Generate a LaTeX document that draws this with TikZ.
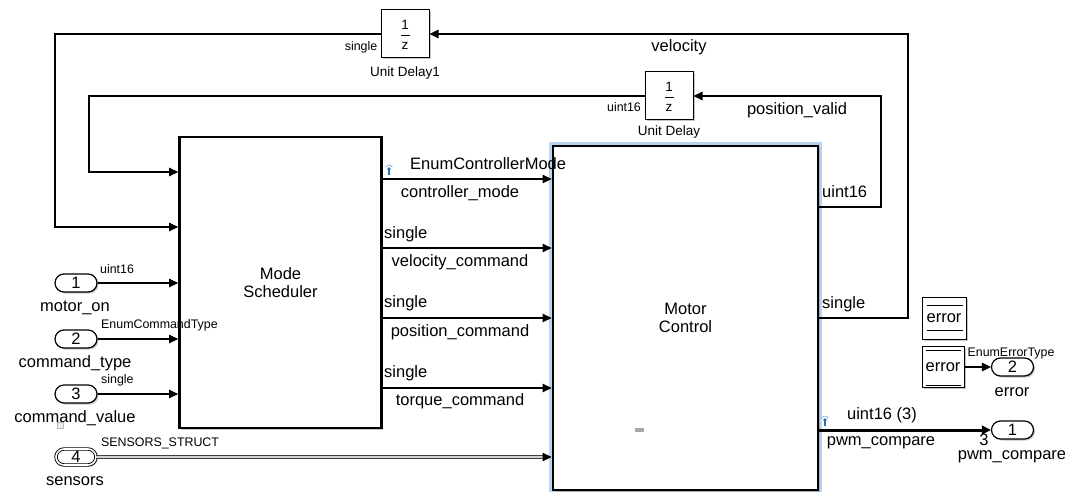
\documentclass[tikz,border=0pt]{standalone}
\usepackage{fontspec}
\setmainfont{Liberation Sans}
\usetikzlibrary{arrows.meta,backgrounds,calc,shadows}
\definecolor{probeblue}{RGB}{40,110,180}
\definecolor{halocol}{RGB}{185,212,240}
\newcommand\LblBig{\fontsize{16.5}{18}\selectfont}
\newcommand\LblSmall{\fontsize{12.4}{14}\selectfont}
\newcommand\LblMid{\fontsize{13.5}{15}\selectfont}
\begin{document}
\begin{tikzpicture}[x=1pt,y=-1pt,
  lbl/.style={inner sep=0pt, font=\LblBig},
  slbl/.style={inner sep=0pt, font=\LblSmall},
  mlbl/.style={inner sep=0pt, font=\LblMid},
  sdw/.style={drop shadow={shadow xshift=1.5pt, shadow yshift=-1.5pt, fill=black!45, opacity=0.5}},
  subsys/.style={draw, fill=white, line width=2.8pt, font=\LblBig, align=center, inner sep=0pt, sdw},
  blockbox/.style={draw, fill=white, line width=1pt, inner sep=0pt, sdw},
  port/.style={draw, fill=white, rounded corners=9pt, minimum width=42pt, minimum height=18pt, line width=1.2pt, font=\LblBig, inner sep=0pt, sdw},
  sig/.style={draw, line width=1.1pt, -{Triangle[length=9pt,width=8.5pt]}},
  probe/.pic={
    \draw[probeblue!55, line width=0.8pt] (-3.29,-1.7) arc[start angle=200, end angle=340, radius=3.5];
    \fill[probeblue] (0,0) circle (1.8);
    \draw[probeblue, line width=1.3pt] (0,0) -- (0,6);
  }
]
\useasboundingbox (0,0) rectangle (1065,492);

% ---------- main blocks ----------
\node[subsys, minimum width=202pt, minimum height=291pt] (ms) at (280.5,282.5) {Mode\\Scheduler};
\node[subsys, minimum width=265pt, minimum height=344pt] (mc) at (685.5,318) {Motor\\Control};
\begin{scope}[on background layer]
  \draw[halocol, line width=3pt] ($(mc.north west)+(-1,-1)$) rectangle ($(mc.south east)+(1,1)$);
\end{scope}
\fill[gray!70] (635,428) rectangle (644,432);

% ---------- unit delays ----------
\node[blockbox, minimum width=48pt, minimum height=48pt] (ud1) at (405,34) {};
\node[mlbl] (ud1a) at (405,24.5) {1};
\draw[line width=0.9pt] (400.5,35) -- (409.5,35);
\node[mlbl] (ud1b) at (405,45.5) {z};
\node[mlbl] (ud1n) at (405,73) {Unit Delay1};
\node[slbl] (ud1t) at (361,47) {single};

\node[blockbox, minimum width=48pt, minimum height=48pt] (ud) at (669,96) {};
\node[mlbl] (uda) at (669,86.5) {1};
\draw[line width=0.9pt] (664.5,97) -- (673.5,97);
\node[mlbl] (udb) at (669,107.5) {z};
\node[mlbl] (udn) at (669,132) {Unit Delay};
\node[slbl] (udt) at (624,107) {uint16};

% ---------- inports ----------
\node[port] (in1) at (76,283) {1};
\node[port] (in2) at (76,339) {2};
\node[port] (in3) at (76,394) {3};
\node[port, rounded corners=8pt, minimum width=40pt, minimum height=16pt, line width=0.9pt, double, double distance=1.6pt] (in4) at (76,457) {4};
\node[lbl] (in1n) at (75,308) {motor\_on};
\node[lbl] (in2n) at (75,363) {command\_type};
\node[lbl] (in3n) at (75,418) {command\_value};
\node[lbl] (in4n) at (75,481) {sensors};
\node[slbl, anchor=west] (in1t) at (100,269) {uint16};
\node[slbl, anchor=west] (in2t) at (101,325) {EnumCommandType};
\node[slbl, anchor=west] (in3t) at (101,380) {single};
\node[slbl, anchor=west] (in4t) at (101,443) {SENSORS\_STRUCT};
\draw[gray!55, fill=gray!15, line width=0.5pt] (57,422) rectangle (63,428);

% ---------- outports and error blocks ----------
\node[port] (out1) at (1012.5,430) {1};
\node[port] (out2) at (1012.5,367) {2};
\node[blockbox, minimum width=44pt, minimum height=42pt, font=\LblBig] (err1) at (944,318) {error};
\draw[line width=1pt] ($(err1.north west)+(5,9)$) -- ($(err1.north east)+(-4,9)$);
\draw[line width=1pt] ($(err1.south west)+(5,-9)$) -- ($(err1.south east)+(-4,-9)$);
\node[blockbox, minimum width=42pt, minimum height=41pt, font=\LblBig] (err2) at (943,367) {error};
\draw[line width=1pt] ($(err2.north west)+(4,4)$) -- ($(err2.north east)+(-4,4)$);
\draw[line width=1pt] ($(err2.south west)+(4,-3)$) -- ($(err2.south east)+(-4,-3)$);
\node[slbl] (out2t) at (1011,354) {EnumErrorType};
\node[lbl] (out2n) at (1012,392) {error};
\node[lbl] (out1c) at (984,440) {3};
\node[lbl] (out1n) at (1012,457) {pwm\_compare};

% ---------- coordinates ----------
\coordinate (yCM) at (0,179);
\coordinate (yVC) at (0,248);
\coordinate (yPC) at (0,318);
\coordinate (yTC) at (0,388);
\coordinate (vA) at (55,227);
\coordinate (vB) at (89,172);
\coordinate (rA) at (908,318);
\coordinate (rB) at (881,207);

% ---------- connectors ----------
\draw[sig] (in1.east) -- (in1 -| ms.west);
\draw[sig] (in2.east) -- (in2 -| ms.west);
\draw[sig] (in3.east) -- (in3 -| ms.west);
\draw[draw=black!75, line width=0.7pt, double=gray!35, double distance=2.6pt, shorten >=8pt] (in4.east) -- (in4 -| mc.west);
\draw[sig] ($(in4 -| mc.west)+(-9,0)$) -- (in4 -| mc.west);

\draw[sig] (ms.east |- yCM) -- (mc.west |- yCM);
\draw[sig] (ms.east |- yVC) -- (mc.west |- yVC);
\draw[sig] (ms.east |- yPC) -- (mc.west |- yPC);
\draw[sig] (ms.east |- yTC) -- (mc.west |- yTC);

\draw[sig] (mc.east |- rA) -- (rA) |- (ud1.east);
\draw[sig] (ud1.west) -| (vA) -- (vA -| ms.west);
\draw[sig] (mc.east |- rB) -- (rB) |- (ud.east);
\draw[sig] (ud.west) -| (vB) -- (vB -| ms.west);

\draw[sig, line width=3pt] (mc.east |- out1) -- (out1.west);
\draw[sig] (err2.east) -- (out2.west);

\pic at (389,169) {probe};
\pic at (825,420) {probe};

% ---------- signal labels ----------
\node[lbl, anchor=west] (t1) at (410,164) {EnumControllerMode};
\node[lbl] (t2) at (460,193) {controller\_mode};
\node[lbl, anchor=west] (t3) at (384,234) {single};
\node[lbl] (t4) at (460,262) {velocity\_command};
\node[lbl, anchor=west] (t5) at (384,303) {single};
\node[lbl] (t6) at (460,332) {position\_command};
\node[lbl, anchor=west] (t7) at (384,373) {single};
\node[lbl] (t8) at (460,401) {torque\_command};
\node[lbl, anchor=west] (t9) at (822,192) {uint16};
\node[lbl, anchor=west] (t10) at (822,304) {single};
\node[lbl] (t11) at (797,110) {position\_valid};
\node[lbl] (t12) at (679,47) {velocity};
\node[lbl] (t13) at (882,415) {uint16 (3)};
\node[lbl] (t14) at (881,443) {pwm\_compare};
\end{tikzpicture}
\end{document}
